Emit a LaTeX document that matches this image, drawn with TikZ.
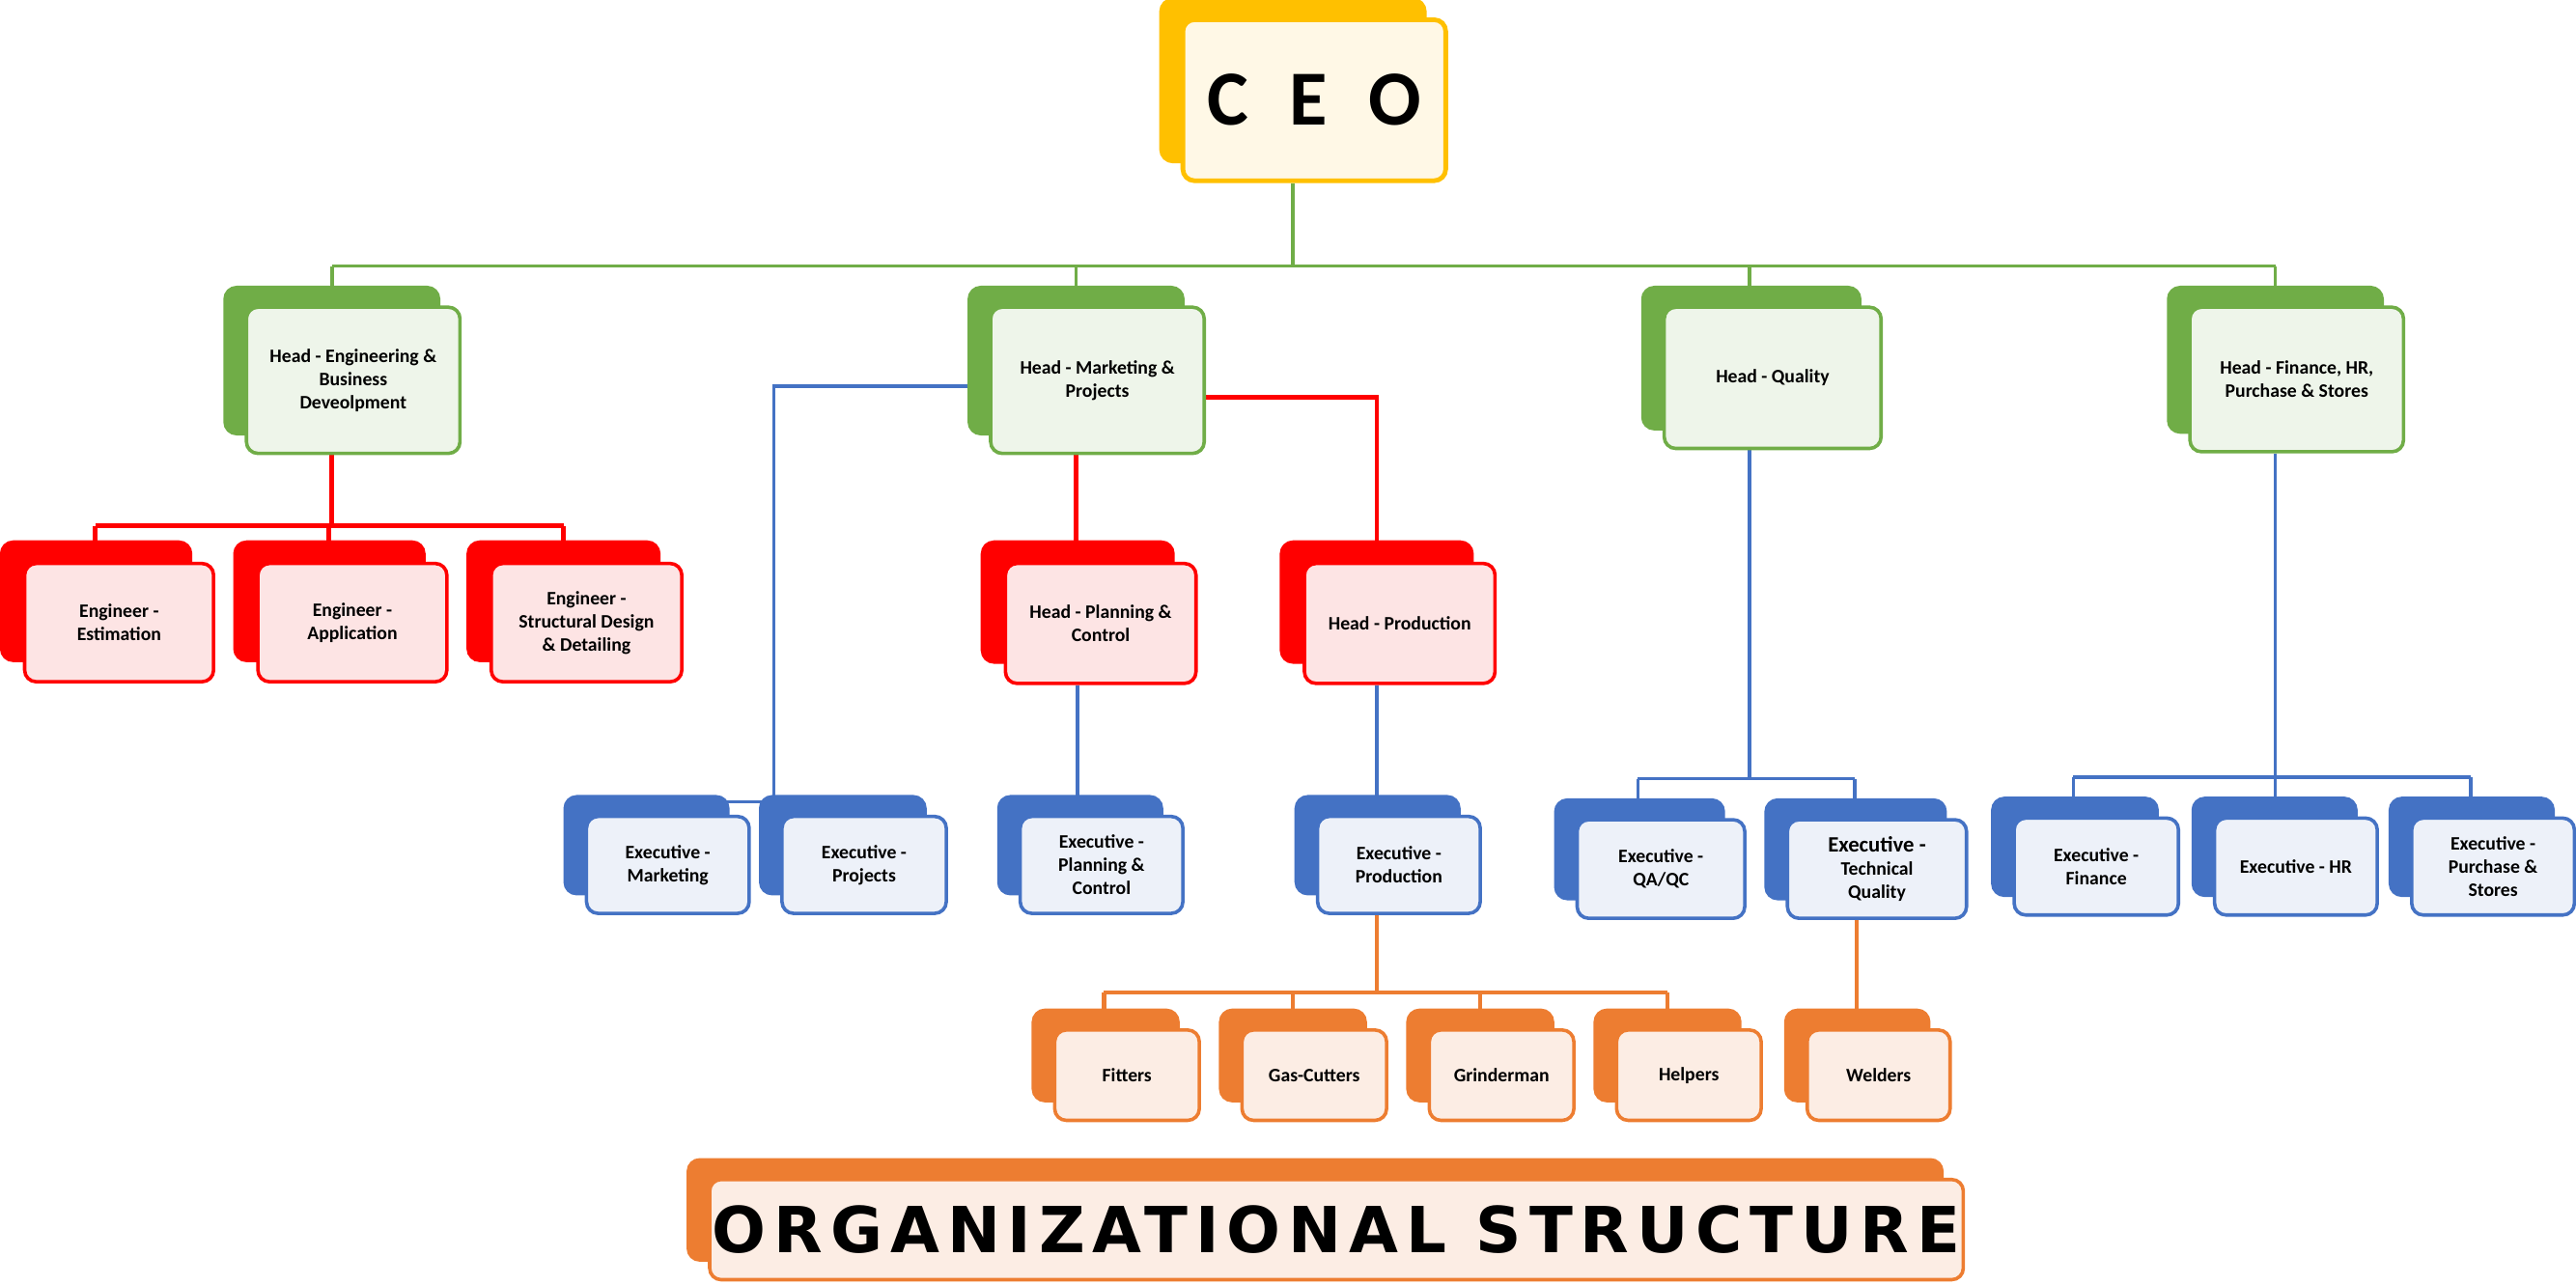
\documentclass[tikz,border=0pt]{standalone}
\usepackage{fontspec}
\setmainfont{Carlito}
\newfontfamily\titlefont[LetterSpace=12]{DejaVu Sans}
\newfontfamily\ceofont[LetterSpace=30]{Carlito}
\usetikzlibrary{shadows,backgrounds,calc}

\definecolor{ceogold}{HTML}{FFC000}
\definecolor{ceofill}{HTML}{FFF8E6}
\definecolor{headgreen}{HTML}{70AD47}
\definecolor{headfill}{HTML}{EEF5EA}
\definecolor{engred}{HTML}{FF0000}
\definecolor{engfill}{HTML}{FDE4E4}
\definecolor{execblue}{HTML}{4472C4}
\definecolor{execfill}{HTML}{EDF1F9}
\definecolor{crewor}{HTML}{ED7D31}
\definecolor{crewfill}{HTML}{FCEDE4}

\tikzset{
  card/.style={rounded corners=4pt, line width=1.2pt, align=center,
    font=\fontsize{6.6}{8}\selectfont\bfseries, inner sep=1pt},
  ceobox/.style={card, draw=ceogold, fill=ceofill, line width=1.6pt,
    copy shadow={shadow xshift=-0.26cm, shadow yshift=0.24cm, fill=ceogold, draw=ceogold}},
  headbox/.style={card, draw=headgreen, fill=headfill,
    copy shadow={shadow xshift=-0.26cm, shadow yshift=0.24cm, fill=headgreen, draw=headgreen}},
  engbox/.style={card, draw=engred, fill=engfill,
    copy shadow={shadow xshift=-0.28cm, shadow yshift=0.26cm, fill=engred, draw=engred}},
  execbox/.style={card, draw=execblue, fill=execfill,
    copy shadow={shadow xshift=-0.26cm, shadow yshift=0.24cm, fill=execblue, draw=execblue}},
  crewbox/.style={card, draw=crewor, fill=crewfill,
    copy shadow={shadow xshift=-0.26cm, shadow yshift=0.24cm, fill=crewor, draw=crewor}},
  gline/.style={headgreen, line width=1.2pt},
  rline/.style={engred, line width=1.6pt},
  bline/.style={execblue, line width=1.2pt},
  oline/.style={crewor, line width=1.4pt}
}

% style, name, x1, y1, x2, y2, text
\newcommand\obox[7]{\node[#1, minimum width={0.02cm*(#5-#3)},
  minimum height={0.02cm*(#6-#4)}] (#2) at ({(#3+#5)/2},{(#4+#6)/2}) {#7};}

\begin{document}
\begin{tikzpicture}[x=0.02cm, y=-0.02cm]
\useasboundingbox (0,0) rectangle (1568,782);

% boxes
\obox{ceobox}{ceo}{720}{12}{880}{110}{\fontsize{27}{30}\selectfont\ceofont\bfseries C E O}

\obox{headbox}{hEng}{150}{187}{280}{276}{Head - Engineering \&\\Business\\Deveolpment}
\obox{headbox}{hMkt}{603}{187}{733}{276}{Head - Marketing \&\\Projects}
\obox{headbox}{hQly}{1013}{187}{1145}{273}{Head - Quality}
\obox{headbox}{hFin}{1333}{187}{1463}{275}{Head - Finance, HR,\\Purchase \& Stores}

\obox{engbox}{eEst}{15}{343}{130}{415}{Engineer -\\Estimation}
\obox{engbox}{eApp}{157}{343}{272}{415}{Engineer -\\Application}
\obox{engbox}{eStr}{299}{343}{415}{415}{Engineer -\\Structural Design\\\& Detailing}
\obox{engbox}{hPln}{612}{343}{728}{416}{Head - Planning \&\\Control}
\obox{engbox}{hPrd}{794}{343}{910}{416}{Head - Production}

\obox{execbox}{xMkt}{357}{497}{456}{556}{Executive -\\Marketing}
\obox{execbox}{xPrj}{476}{497}{576}{556}{Executive -\\Projects}
\obox{execbox}{xPln}{621}{497}{720}{556}{Executive -\\Planning \&\\Control}
\obox{execbox}{xPrd}{802}{497}{901}{556}{Executive -\\Production}
\obox{execbox}{xQa}{960}{499}{1062}{559}{Executive -\\QA/QC}
\obox{execbox}{xTq}{1088}{499}{1197}{559}{\fontsize{7.6}{9}\selectfont Executive -\\Technical\\Quality}
\obox{execbox}{xFin}{1226}{498}{1326}{557}{Executive -\\Finance}
\obox{execbox}{xHr}{1348}{498}{1447}{557}{Executive - HR}
\obox{execbox}{xPur}{1468}{498}{1567}{557}{Executive -\\Purchase \&\\Stores}

\obox{crewbox}{cFit}{642}{627}{730}{682}{Fitters}
\obox{crewbox}{cGas}{756}{627}{844}{682}{Gas-Cutters}
\obox{crewbox}{cGrd}{870}{627}{958}{682}{Grinderman}
\obox{crewbox}{cHlp}{984}{627}{1072}{682}{Helpers}
\obox{crewbox}{cWld}{1100}{627}{1187}{682}{Welders}

\obox{crewbox}{title}{442}{718}{1185}{779}{\fontsize{22}{26}\selectfont\titlefont\bfseries ORGANIZATIONAL STRUCTURE}

% connectors
\begin{scope}[on background layer]
  \coordinate (ceoBus) at (787,162);
  \draw[gline] (ceo.south -| ceoBus) -- (ceoBus);
  \draw[gline] (202,162) -- (1385,162);
  \foreach \hx/\hn in {202/hEng, 655/hMkt, 1065/hQly, 1385/hFin}
    \draw[gline] (\hx,162) -- (\hx,180);

  \draw[rline] (hEng.south -| 202,0) -- (202,320);
  \draw[rline] (58,320) -- (343,320);
  \foreach \ex in {58,200,343} \draw[rline] (\ex,320) -- (\ex,334);

  \draw[bline] (hMkt.west |- 0,235) -| (471,488);
  \draw[bline] (411,488) -- (530,488);
  \draw[rline] (hMkt.east |- 0,242) -| (838,334);
  \draw[rline] (hMkt.south -| 655,0) -- (655,334);

  \draw[bline] (hPln.south -| 656,0) -- (656,488);
  \draw[bline] (hPrd.south -| 838,0) -- (838,488);

  \draw[oline] (xPrd.south -| 838,0) -- (838,604);
  \draw[oline] (672,604) -- (1015,604);
  \foreach \cx in {672,787,901,1015} \draw[oline] (\cx,604) -- (\cx,618);

  \draw[bline] (hQly.south -| 1065,0) -- (1065,474);
  \draw[bline] (997,474) -- (1129,474);
  \foreach \qx in {997,1129} \draw[bline] (\qx,474) -- (\qx,490);
  \draw[oline] (xTq.south -| 1130,0) -- (1130,618);

  \draw[bline] (hFin.south -| 1385,0) -- (1385,473);
  \draw[bline] (1262,473) -- (1504,473);
  \foreach \fx in {1262,1385,1504} \draw[bline] (\fx,473) -- (\fx,489);
\end{scope}
\end{tikzpicture}
\end{document}
